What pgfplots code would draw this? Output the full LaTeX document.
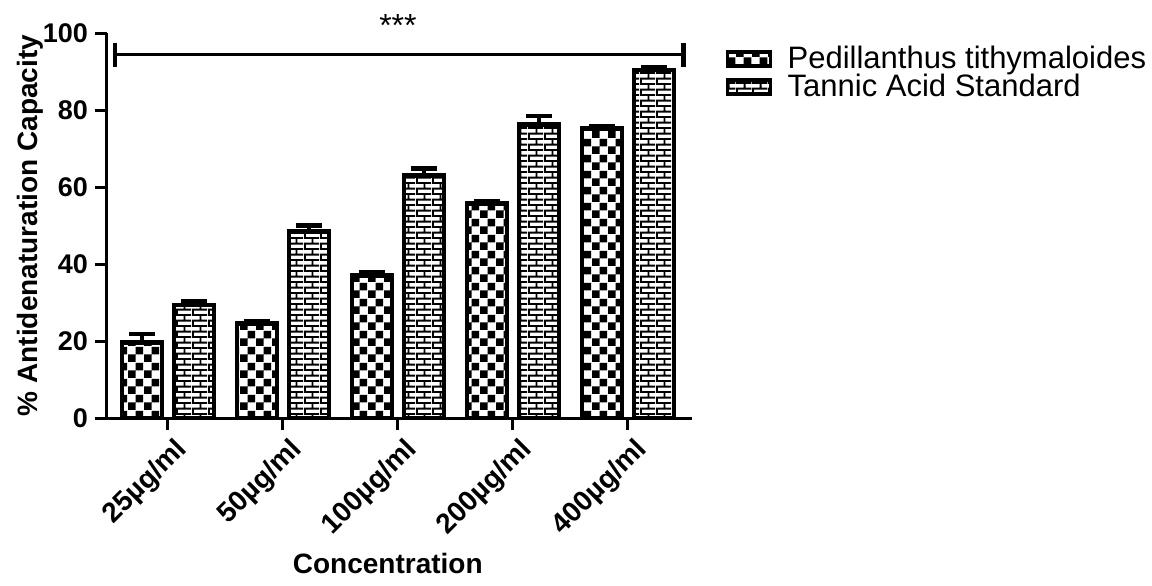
\documentclass[border=0pt]{standalone}
\usepackage{fontspec}
\setmainfont{Liberation Sans}
\usepackage{pgfplots}
\usepackage{pgfplotstable}
\pgfplotsset{compat=1.18}
\usetikzlibrary{patterns}

\pgfdeclarepatternformonly{gpchecker}{\pgfqpoint{0pt}{0pt}}{\pgfqpoint{8pt}{8pt}}{\pgfqpoint{8pt}{8pt}}{%
 \pgfpathrectangle{\pgfqpoint{0pt}{0pt}}{\pgfqpoint{4pt}{4pt}}%
 \pgfpathrectangle{\pgfqpoint{4pt}{4pt}}{\pgfqpoint{4pt}{4pt}}%
 \pgfusepath{fill}}
\pgfdeclarepatternformonly{gpbricks}{\pgfqpoint{0pt}{0pt}}{\pgfqpoint{8pt}{5.7pt}}{\pgfqpoint{8pt}{5.7pt}}{%
 \pgfpathrectangle{\pgfqpoint{0pt}{0pt}}{\pgfqpoint{8pt}{1pt}}%
 \pgfpathrectangle{\pgfqpoint{0pt}{2.85pt}}{\pgfqpoint{8pt}{1pt}}%
 \pgfpathrectangle{\pgfqpoint{0pt}{1pt}}{\pgfqpoint{1pt}{1.85pt}}%
 \pgfpathrectangle{\pgfqpoint{4pt}{3.85pt}}{\pgfqpoint{1pt}{1.85pt}}%
 \pgfusepath{fill}}

\newcommand{\tfont}{\fontsize{13.5}{16}\selectfont\bfseries}
\newcommand{\xfont}{\fontsize{14}{16.5}\selectfont\bfseries}

\pgfplotstableread{
x y e
0 19.6 2.2
1 24.5 0.7
2 37.0 0.9
3 55.7 0.5
4 75.2 0.5
}\ptdata
\pgfplotstableread{
x y e
0 29.4 1.0
1 48.5 1.5
2 63.0 1.8
3 76.3 2.1
4 90.4 0.6
}\tadata

\begin{document}
\begin{tikzpicture}
\begin{axis}[
  scale only axis, width=292.5pt, height=192.5pt,
  xmin=-0.53, xmax=4.557, ymin=0, ymax=100,
  axis lines=left,
  axis line style={-, line width=1.5pt},
  tick align=outside, major tick length=6pt,
  tick style={line width=1.5pt, black},
  xtick={0,1,2,3,4},
  xticklabels={25µg/ml,50µg/ml,100µg/ml,200µg/ml,400µg/ml},
  ytick={0,20,40,60,80,100},
  /pgf/number format/assume math mode=true,
  yticklabel style={font=\tfont},
  xticklabel style={font=\xfont, rotate=45, anchor=north east, inner sep=1pt, yshift=-3pt, xshift=1pt},
  xlabel={Concentration},
  ylabel={\% Antidenaturation Capacity},
  label style={font=\bfseries\fontsize{14}{17}\selectfont},
  xlabel style={at={(axis description cs:0.48,-0.377)}, anchor=center},
  ylabel style={at={(axis description cs:-0.1316,0.5)}, anchor=center},
  ybar, bar width=20pt,
  clip=false,
  legend cell align=left,
  legend style={at={(1.047,0.98)}, anchor=north west, draw=none, fill=none,
    font=\fontsize{15.5}{18}\selectfont, row sep=0pt, nodes={inner sep=0.6pt},
    /tikz/every odd column/.append style={column sep=7pt}},
  mylegend/.style={legend image code/.code={\draw[##1, line width=1.8pt] (0pt,-3.6pt) rectangle (21.5pt,3.6pt);}},
]
\addplot[draw=black, line width=2.3pt, pattern=gpchecker, bar shift=-13pt, mylegend,
  error bars/.cd, y dir=plus, y explicit,
  error bar style={line width=2pt, black},
  error mark options={rotate=90, line width=2.3pt, mark size=6.5pt, black}]
  table[x=x, y=y, y error=e] {\ptdata};
\addlegendentry{Pedillanthus tithymaloides}
\addplot[draw=black, line width=2.3pt, pattern=gpbricks, bar shift=13pt, mylegend,
  error bars/.cd, y dir=plus, y explicit,
  error bar style={line width=2pt, black},
  error mark options={rotate=90, line width=2.3pt, mark size=6.5pt, black}]
  table[x=x, y=y, y error=e] {\tadata};
\addlegendentry{Tannic Acid Standard}
\draw[line width=1.5pt] (axis cs:-0.62,0) -- (axis cs:-0.53,0);
\draw[line width=1.6pt] (axis cs:-0.46,94.5) -- (axis cs:4.485,94.5);
\draw[line width=2.3pt] (axis cs:-0.46,91.3) -- (axis cs:-0.46,97.4);
\draw[line width=2.3pt] (axis cs:4.485,91.3) -- (axis cs:4.485,97.4);
\node[font=\fontsize{16}{18}\selectfont] at (axis cs:2.0,102) {***};
\end{axis}
\pgfresetboundingbox
\path (-53.5pt,-83.5pt) rectangle (522.5pt,209pt);
\end{tikzpicture}
\end{document}
